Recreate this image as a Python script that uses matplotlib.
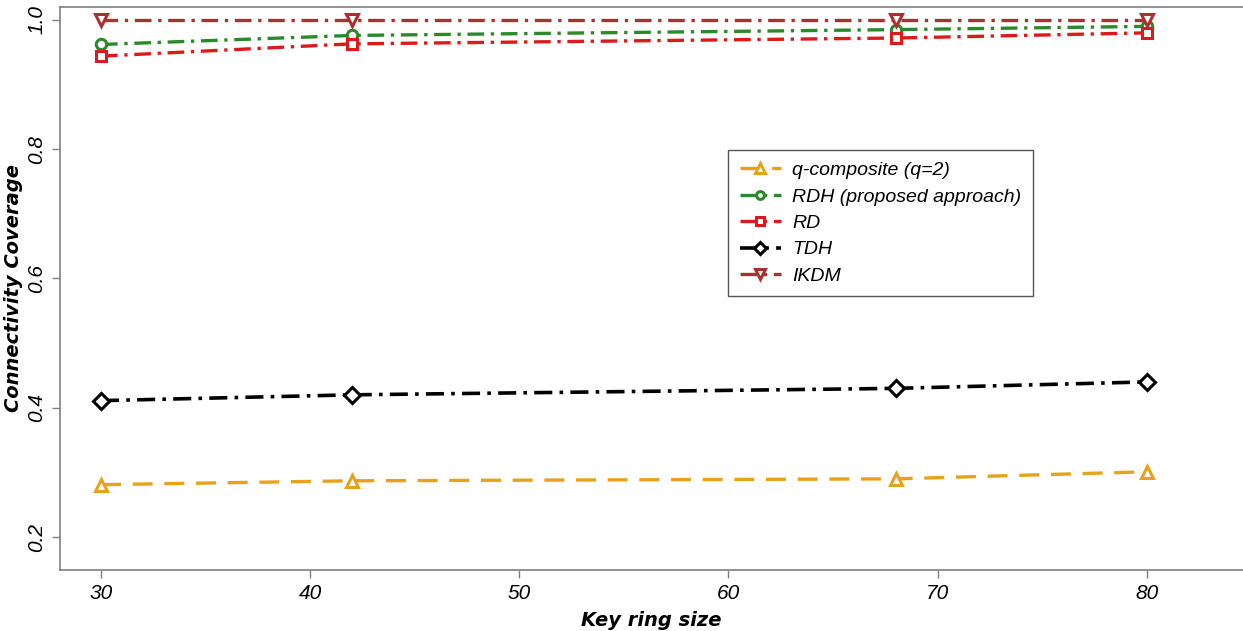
import matplotlib
matplotlib.use("Agg")
import matplotlib.pyplot as plt

key_ring = [30, 42, 68, 80]

q_composite = [0.281, 0.287, 0.290, 0.301]
rdh = [0.962, 0.976, 0.985, 0.990]
rd = [0.944, 0.963, 0.972, 0.980]
tdh = [0.411, 0.420, 0.430, 0.440]
ikdm = [1.0, 1.0, 1.0, 1.0]

labels = ["q-composite (q=2)", "RDH (proposed approach)", "RD", "TDH", "IKDM"]

plt.rcParams["font.family"] = ["Liberation Sans", "DejaVu Sans"]

fig = plt.figure(figsize=(12.43, 6.31), dpi=100)
ax = fig.add_axes([60 / 1243, 61 / 631, 1 - 60 / 1243, 563 / 631])

dotdash = (0, (5, 2, 1, 2))
common = dict(lw=2.4, ms=9, mew=2.2, mfc="white")

ax.plot(key_ring, q_composite, color="#E8A21A", marker="^", ls=(0, (6, 3.5)),
        label=labels[0], **common)
ax.plot(key_ring, rdh, color="#2A8A2A", marker="o", ls=dotdash, label=labels[1],
        lw=2.4, ms=7.5, mew=2.2, mfc="white")
ax.plot(key_ring, rd, color="#DD1A1A", marker="s", ls=dotdash, label=labels[2],
        lw=2.4, ms=7.5, mew=2.2, mfc="white")
ax.plot(key_ring, tdh, color="black", marker="D", ls=dotdash, label=labels[3],
        lw=2.6, ms=8, mew=2.2, mfc="white")
ax.plot(key_ring, ikdm, color="#A83232", marker="v", ls=dotdash, label=labels[4], **common)

ax.set_xlim(28.04, 84.6)
ax.set_ylim(0.149, 1.02)
ax.set_xticks([30, 40, 50, 60, 70, 80])
ax.set_yticks([0.2, 0.4, 0.6, 0.8, 1.0])
ax.set_yticklabels(["0.2", "0.4", "0.6", "0.8", "1.0"], rotation=90, va="center")

for side in ["left", "bottom", "top"]:
    ax.spines[side].set_color("#808080")
    ax.spines[side].set_linewidth(1.2)
ax.spines["right"].set_visible(False)
ax.tick_params(colors="#808080", length=6, width=1, labelcolor="black", labelsize=15, pad=4)
for t in ax.get_xticklabels() + ax.get_yticklabels():
    t.set_fontstyle("italic")

ax.set_xlabel("Key ring size", fontsize=14, fontweight="bold", fontstyle="italic",
              family="DejaVu Sans")
ax.set_ylabel("Connectivity Coverage", fontsize=14, fontweight="bold", fontstyle="italic",
              family="DejaVu Sans")
ax.xaxis.set_label_coords(0.5, -0.072)
ax.yaxis.set_label_coords(-0.031, 0.5)

leg = ax.legend(loc="upper left", bbox_to_anchor=(728 / 1243, 1 - 150 / 631),
                bbox_transform=fig.transFigure, fancybox=False, framealpha=1,
                edgecolor="#555555", prop={"style": "italic", "size": 14},
                handlelength=2.1, labelspacing=0.45, borderpad=0.6, handletextpad=0.6,
                markerscale=0.75, borderaxespad=0)
leg.get_frame().set_linewidth(1.0)

fig.savefig("out.png", dpi=100)
